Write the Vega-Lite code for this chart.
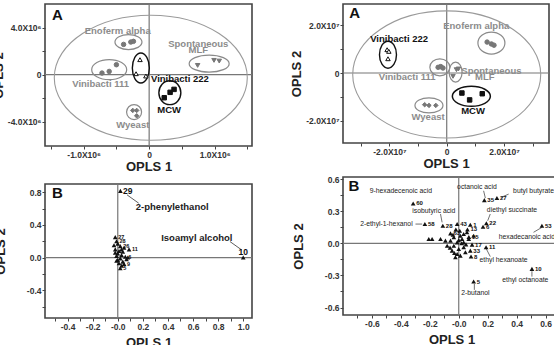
{
  "$schema": "https://vega.github.io/schema/vega-lite/v6.json",
  "padding": {"left": -9, "top": 2, "right": 0, "bottom": 0},
  "background": "white",
  "config": {
    "font": "Liberation Sans",
    "view": {"stroke": "#444", "strokeWidth": 1.6},
    "axis": {"grid": false, "domain": false, "tickCount": 100, "tickColor": "#444", "tickSize": 3, "tickWidth": 1, "labelFont": "Liberation Sans", "labelFontWeight": "bold", "labelFontSize": 8.5, "labelColor": "#333", "labelPadding": 1, "labelOverlap": false, "labelFlush": false, "titleFont": "Liberation Sans", "titleFontSize": 13, "titleFontWeight": "bold", "titleColor": "#222", "titlePadding": 2}
  },
  "datasets": {
    "zero": [{"v": 0}],
    "tlp": [
      {"group": "Enoferm alpha", "x": -390000, "y": 2580000},
      {"group": "Enoferm alpha", "x": -280000, "y": 2780000},
      {"group": "Enoferm alpha", "x": -240000, "y": 2840000},
      {"group": "Vinibacti 111", "x": -720000, "y": 140000},
      {"group": "Vinibacti 111", "x": -610000, "y": 280000},
      {"group": "Vinibacti 111", "x": -500000, "y": 850000},
      {"group": "Vinibacti 222", "x": -140000, "y": 1280000},
      {"group": "Vinibacti 222", "x": -200000, "y": 85000},
      {"group": "Vinibacti 222", "x": -50000, "y": -110000},
      {"group": "Spontaneous MLF", "x": 740000, "y": 790000},
      {"group": "Spontaneous MLF", "x": 990000, "y": 1220000},
      {"group": "Spontaneous MLF", "x": 1070000, "y": 1160000},
      {"group": "MCW", "x": 230000, "y": -1960000},
      {"group": "MCW", "x": 320000, "y": -1500000},
      {"group": "MCW", "x": 380000, "y": -1250000},
      {"group": "Wyeast", "x": -250000, "y": -3040000},
      {"group": "Wyeast", "x": -190000, "y": -3040000},
      {"group": "Wyeast", "x": -190000, "y": -3500000}
    ],
    "tle": [
      {"group": "T2", "x": 25000, "y": -260000},
      {"group": "Enoferm alpha", "x": -316000, "y": 2780000},
      {"group": "Vinibacti 111", "x": -610000, "y": 430000},
      {"group": "Vinibacti 222", "x": -127000, "y": 570000},
      {"group": "Spontaneous MLF", "x": 916000, "y": 940000},
      {"group": "MCW", "x": 316000, "y": -1530000},
      {"group": "Wyeast", "x": -230000, "y": -3180000}
    ],
    "tll": [
      {"text": "Enoferm alpha", "x": -480000, "y": 3720000, "style": "gray"},
      {"text": "Spontaneous", "x": 750000, "y": 2640000, "style": "gray"},
      {"text": "MLF", "x": 750000, "y": 2070000, "style": "gray"},
      {"text": "Vinibacti 111", "x": -740000, "y": -770000, "style": "gray"},
      {"text": "Wyeast", "x": -250000, "y": -4310000, "style": "gray"},
      {"text": "Vinibacti 222", "x": 470000, "y": -400000, "style": "bold"},
      {"text": "MCW", "x": 305000, "y": -3040000, "style": "bold"},
      {"text": "A", "x": -1400000, "y": 5050000, "style": "letter"}
    ],
    "trp": [
      {"group": "Vinibacti 222", "x": -20800000, "y": 9800000},
      {"group": "Vinibacti 222", "x": -20200000, "y": 9100000},
      {"group": "Vinibacti 222", "x": -20500000, "y": 6000000},
      {"group": "Enoferm alpha", "x": 14100000, "y": 13000000},
      {"group": "Enoferm alpha", "x": 15600000, "y": 12200000},
      {"group": "Enoferm alpha", "x": 16500000, "y": 11700000},
      {"group": "Vinibacti 111", "x": -3000000, "y": 2400000},
      {"group": "Vinibacti 111", "x": -2100000, "y": 2700000},
      {"group": "Vinibacti 111", "x": -1300000, "y": 2100000},
      {"group": "Spontaneous MLF", "x": 3400000, "y": 1400000},
      {"group": "Spontaneous MLF", "x": 2200000, "y": -1400000},
      {"group": "Spontaneous MLF", "x": 4100000, "y": 1700000},
      {"group": "MCW", "x": 5300000, "y": -8400000},
      {"group": "MCW", "x": 8000000, "y": -11300000},
      {"group": "MCW", "x": 12400000, "y": -8700000},
      {"group": "Wyeast", "x": -7700000, "y": -13300000},
      {"group": "Wyeast", "x": -6200000, "y": -13600000},
      {"group": "Wyeast", "x": -3800000, "y": -13600000}
    ],
    "tre": [
      {"group": "T2", "x": 0, "y": -600000},
      {"group": "Vinibacti 222", "x": -20500000, "y": 7700000},
      {"group": "Enoferm alpha", "x": 15600000, "y": 12600000},
      {"group": "Vinibacti 111", "x": -2400000, "y": 2400000},
      {"group": "Spontaneous MLF", "x": 3100000, "y": 400000},
      {"group": "MCW", "x": 8600000, "y": -9800000},
      {"group": "Wyeast", "x": -6200000, "y": -13600000}
    ],
    "trl": [
      {"text": "Vinibacti 222", "x": -16600000, "y": 14400000, "style": "bold"},
      {"text": "Enoferm alpha", "x": 10300000, "y": 19600000, "style": "gray"},
      {"text": "Vinibacti 111", "x": -13800000, "y": -1800000, "style": "gray"},
      {"text": "Spontaneous", "x": 15600000, "y": 1000000, "style": "gray"},
      {"text": "MLF", "x": 13300000, "y": -1800000, "style": "gray"},
      {"text": "MCW", "x": 9200000, "y": -16100000, "style": "bold"},
      {"text": "Wyeast", "x": -6500000, "y": -18600000, "style": "gray"},
      {"text": "A", "x": -32100000, "y": 25200000, "style": "letter"}
    ],
    "blp": [
      {"x": 0.021, "y": 0.816},
      {"x": 1.0, "y": 0.0},
      {"x": -0.02, "y": 0.25, "num": "27"},
      {"x": -0.01, "y": 0.2, "num": "28"},
      {"x": 0.0, "y": 0.17},
      {"x": -0.03, "y": 0.15},
      {"x": 0.02, "y": 0.14, "num": "26"},
      {"x": 0.05, "y": 0.12},
      {"x": 0.09, "y": 0.1, "num": "11"},
      {"x": -0.02, "y": 0.1},
      {"x": 0.01, "y": 0.08},
      {"x": 0.04, "y": 0.07},
      {"x": 0.0, "y": 0.05},
      {"x": 0.03, "y": 0.03},
      {"x": -0.01, "y": 0.02},
      {"x": 0.06, "y": 0.01, "num": "6"},
      {"x": 0.02, "y": -0.01},
      {"x": 0.07, "y": -0.02},
      {"x": 0.0, "y": -0.03},
      {"x": 0.04, "y": -0.05},
      {"x": 0.01, "y": -0.07},
      {"x": 0.05, "y": -0.08, "num": "9"},
      {"x": 0.03, "y": -0.1},
      {"x": 0.02, "y": -0.13, "num": "5"},
      {"x": -0.01, "y": -0.04},
      {"x": 0.08, "y": 0.0},
      {"x": -0.02, "y": 0.06},
      {"x": 0.03, "y": 0.1}
    ],
    "bll": [
      {"text": "29", "x": 0.08, "y": 0.82, "style": "num"},
      {"text": "10", "x": 1.0, "y": 0.07, "style": "num"},
      {"text": "2-phenylethanol", "x": 0.434, "y": 0.62, "style": "name"},
      {"text": "Isoamyl alcohol", "x": 0.63, "y": 0.245, "style": "name"},
      {"text": "B", "x": -0.48, "y": 0.79, "style": "letter"}
    ],
    "bln": [
      {"x": 0.074, "y": 0.767, "x2": 0.167, "y2": 0.665},
      {"x": 0.894, "y": 0.196, "x2": 0.987, "y2": 0.094}
    ],
    "brp": [
      {"x": -0.315, "y": 0.373, "num": "60"},
      {"x": -0.234, "y": 0.18, "num": "58"},
      {"x": -0.11, "y": 0.165, "num": "28"},
      {"x": -0.011, "y": 0.18, "num": "43"},
      {"x": 0.08, "y": 0.174, "num": "1"},
      {"x": 0.177, "y": 0.404, "num": "35"},
      {"x": 0.264, "y": 0.423, "num": "27"},
      {"x": 0.191, "y": 0.187, "num": "22"},
      {"x": 0.168, "y": 0.155, "num": "6"},
      {"x": 0.575, "y": 0.165, "num": "53"},
      {"x": 0.189, "y": -0.037, "num": "11"},
      {"x": 0.506, "y": -0.239, "num": "10"},
      {"x": 0.103, "y": -0.357, "num": "5"},
      {"x": 0.085, "y": -0.124, "num": "8"},
      {"x": 0.08, "y": -0.068, "num": "33"},
      {"x": 0.092, "y": -0.012, "num": "17"},
      {"x": -0.057, "y": 0.093, "num": "63"},
      {"x": 0.06, "y": 0.13, "num": "13"},
      {"x": 0.07, "y": 0.06, "num": "15"},
      {"x": -0.126, "y": 0.04},
      {"x": -0.207, "y": 0.04},
      {"x": -0.184, "y": 0.04},
      {"x": -0.092, "y": 0.025},
      {"x": -0.034, "y": 0.056},
      {"x": 0.011, "y": 0.071},
      {"x": 0.034, "y": 0.087},
      {"x": 0.057, "y": 0.103},
      {"x": 0.023, "y": 0.04},
      {"x": -0.011, "y": 0.009},
      {"x": -0.034, "y": -0.022},
      {"x": 0.0, "y": -0.053},
      {"x": -0.046, "y": -0.068},
      {"x": -0.011, "y": -0.1},
      {"x": 0.034, "y": -0.037},
      {"x": 0.046, "y": -0.084},
      {"x": 0.011, "y": -0.115},
      {"x": -0.023, "y": -0.13},
      {"x": 0.069, "y": 0.04},
      {"x": -0.057, "y": 0.025},
      {"x": -0.08, "y": -0.022},
      {"x": 0.034, "y": 0.009},
      {"x": 0.007, "y": 0.118},
      {"x": 0.103, "y": 0.071},
      {"x": -0.02, "y": 0.13},
      {"x": 0.02, "y": 0.0},
      {"x": -0.04, "y": 0.08},
      {"x": 0.0, "y": 0.03},
      {"x": -0.06, "y": -0.04},
      {"x": 0.05, "y": -0.01},
      {"x": -0.03, "y": -0.09}
    ],
    "brl": [
      {"text": "9-hexadecenoic acid", "x": -0.4, "y": 0.485, "style": "name"},
      {"text": "isobutyric acid", "x": -0.172, "y": 0.305, "style": "name"},
      {"text": "2-ethyl-1-hexanol", "x": -0.5, "y": 0.18, "style": "name"},
      {"text": "octanoic acid", "x": 0.126, "y": 0.528, "style": "name"},
      {"text": "butyl butyrate", "x": 0.517, "y": 0.485, "style": "name"},
      {"text": "diethyl succinate", "x": 0.368, "y": 0.311, "style": "name"},
      {"text": "hexadecanoic acid", "x": 0.471, "y": 0.062, "style": "name"},
      {"text": "ethyl hexanoate", "x": 0.31, "y": -0.155, "style": "name"},
      {"text": "ethyl octanoate", "x": 0.46, "y": -0.342, "style": "name"},
      {"text": "2-butanol", "x": 0.115, "y": -0.466, "style": "name"},
      {"text": "B", "x": -0.724, "y": 0.538, "style": "letter"}
    ],
    "brn": [
      {"x": 0.172, "y": 0.491, "x2": 0.184, "y2": 0.423},
      {"x": 0.345, "y": 0.46, "x2": 0.292, "y2": 0.429},
      {"x": 0.218, "y": 0.274, "x2": 0.2, "y2": 0.211},
      {"x": 0.517, "y": 0.103, "x2": 0.575, "y2": 0.149},
      {"x": 0.218, "y": -0.124, "x2": 0.191, "y2": -0.053},
      {"x": 0.506, "y": -0.311, "x2": 0.506, "y2": -0.261},
      {"x": 0.108, "y": -0.435, "x2": 0.108, "y2": -0.379},
      {"x": -0.299, "y": 0.18, "x2": -0.253, "y2": 0.18},
      {"x": -0.126, "y": 0.274, "x2": -0.115, "y2": 0.196}
    ]
  },
  "spacing": 35,
  "hconcat": [
    {
      "spacing": 7,
      "vconcat": [
        {
          "width": 207, "height": 142,
          "resolve": {"scale": {"shape": "independent", "stroke": "independent", "fill": "independent"}},
          "layer": [
            {"data": {"name": "zero"}, "mark": {"type": "rule", "color": "#777", "strokeWidth": 1.2},
             "encoding": {"x": {"field": "v", "type": "quantitative", "title": "OPLS 1", "scale": {"domain": [-1590000, 1570000], "nice": false, "zero": false},
               "axis": {"tickCount": 100, "values": [-1500000, -1000000, -500000, 0, 500000, 1000000, 1500000], "labelExpr": "datum.value == 0 ? '0' : (abs(datum.value) % 1000000 == 0 ? (datum.value < 0 ? '-' : '') + format(abs(datum.value) / 1000000, '.1f') + 'X10⁶' : '')"}}}},
            {"data": {"name": "zero"}, "mark": {"type": "rule", "color": "#777", "strokeWidth": 1.2},
             "encoding": {"y": {"field": "v", "type": "quantitative", "title": "OPLS 2", "scale": {"domain": [-6070000, 6020000], "nice": false, "zero": false},
               "axis": {"tickCount": 100, "values": [-4000000, -2000000, 0, 2000000, 4000000], "labelExpr": "datum.value == 0 ? '0' : (abs(datum.value) % 4000000 == 0 ? (datum.value < 0 ? '-' : '') + format(abs(datum.value) / 1000000, '.1f') + 'X10⁶' : '')"}}}},
            {"data": {"name": "tle"}, "transform": [{"filter": "datum.group == 'T2'"}], "mark": {"type": "point", "filled": false, "opacity": 1, "strokeWidth": 1.1, "color": "#9a9a9a", "shape": "M-1,0A1,0.648 0 1 1 1,0A1,0.648 0 1 1 -1,0Z", "size": 37249},
             "encoding": {"x": {"field": "x", "type": "quantitative"}, "y": {"field": "y", "type": "quantitative"}}},
            {"data": {"name": "tle"}, "transform": [{"filter": "datum.group == 'Enoferm alpha'"}], "mark": {"type": "point", "filled": false, "opacity": 1, "strokeWidth": 1.2, "color": "#8a8a8a", "shape": "M-1,0A1,0.556 0 1 1 1,0A1,0.556 0 1 1 -1,0Z", "size": 729},
             "encoding": {"x": {"field": "x", "type": "quantitative"}, "y": {"field": "y", "type": "quantitative"}}},
            {"data": {"name": "tle"}, "transform": [{"filter": "datum.group == 'Vinibacti 111'"}], "mark": {"type": "point", "filled": false, "opacity": 1, "strokeWidth": 1.2, "color": "#8a8a8a", "shape": "M-1,0A1,0.571 0 1 1 1,0A1,0.571 0 1 1 -1,0Z", "size": 1225},
             "encoding": {"x": {"field": "x", "type": "quantitative"}, "y": {"field": "y", "type": "quantitative"}}},
            {"data": {"name": "tle"}, "transform": [{"filter": "datum.group == 'Vinibacti 222'"}], "mark": {"type": "point", "filled": false, "opacity": 1, "strokeWidth": 1.4, "color": "#111", "shape": "M-1,0A1,1.765 0 1 1 1,0A1,1.765 0 1 1 -1,0Z", "size": 289},
             "encoding": {"x": {"field": "x", "type": "quantitative"}, "y": {"field": "y", "type": "quantitative"}}},
            {"data": {"name": "tle"}, "transform": [{"filter": "datum.group == 'Spontaneous MLF'"}], "mark": {"type": "point", "filled": false, "opacity": 1, "strokeWidth": 1.2, "color": "#8a8a8a", "shape": "M-1,0A1,0.425 0 1 1 1,0A1,0.425 0 1 1 -1,0Z", "size": 1600},
             "encoding": {"x": {"field": "x", "type": "quantitative"}, "y": {"field": "y", "type": "quantitative"}}},
            {"data": {"name": "tle"}, "transform": [{"filter": "datum.group == 'MCW'"}], "mark": {"type": "point", "filled": false, "opacity": 1, "strokeWidth": 1.4, "color": "#111", "shape": "M-1,0A1,1.09 0 1 1 1,0A1,1.09 0 1 1 -1,0Z", "size": 484},
             "encoding": {"x": {"field": "x", "type": "quantitative"}, "y": {"field": "y", "type": "quantitative"}}},
            {"data": {"name": "tle"}, "transform": [{"filter": "datum.group == 'Wyeast'"}], "mark": {"type": "point", "filled": false, "opacity": 1, "strokeWidth": 1.2, "color": "#8a8a8a", "shape": "M-1,0A1,1 0 1 1 1,0A1,1 0 1 1 -1,0Z", "size": 225},
             "encoding": {"x": {"field": "x", "type": "quantitative"}, "y": {"field": "y", "type": "quantitative"}}},
            {"data": {"name": "tlp"}, "mark": {"type": "point", "opacity": 1, "size": 20, "strokeWidth": 1},
             "encoding": {
               "x": {"field": "x", "type": "quantitative"},
               "y": {"field": "y", "type": "quantitative"},
               "shape": {"field": "group", "type": "nominal", "legend": null, "scale": {"domain": ["Enoferm alpha", "Vinibacti 111", "Vinibacti 222", "Spontaneous MLF", "MCW", "Wyeast"], "range": ["circle", "circle", "triangle-up", "triangle-down", "square", "diamond"]}},
               "fill": {"field": "group", "type": "nominal", "legend": null, "scale": {"domain": ["Enoferm alpha", "Vinibacti 111", "Vinibacti 222", "Spontaneous MLF", "MCW", "Wyeast"], "range": ["#777777", "#777777", "#ffffff", "#777777", "#111111", "#777777"]}},
               "stroke": {"field": "group", "type": "nominal", "legend": null, "scale": {"domain": ["Enoferm alpha", "Vinibacti 111", "Vinibacti 222", "Spontaneous MLF", "MCW", "Wyeast"], "range": ["#777777", "#777777", "#111111", "#777777", "#111111", "#777777"]}}
             }},
            {"data": {"name": "tll"}, "transform": [{"filter": "datum.style == 'gray'"}], "mark": {"type": "text", "fontSize": 9.5, "fontWeight": "bold", "color": "#8c8c8c"},
             "encoding": {"x": {"field": "x", "type": "quantitative"}, "y": {"field": "y", "type": "quantitative"}, "text": {"field": "text"}}},
            {"data": {"name": "tll"}, "transform": [{"filter": "datum.style == 'bold'"}], "mark": {"type": "text", "fontSize": 9.5, "fontWeight": "bold", "color": "#111"},
             "encoding": {"x": {"field": "x", "type": "quantitative"}, "y": {"field": "y", "type": "quantitative"}, "text": {"field": "text"}}},
            {"data": {"name": "tll"}, "transform": [{"filter": "datum.style == 'letter'"}], "mark": {"type": "text", "fontSize": 15, "fontWeight": "bold", "color": "#111"},
             "encoding": {"x": {"field": "x", "type": "quantitative"}, "y": {"field": "y", "type": "quantitative"}, "text": {"field": "text"}}}
          ]
        },
        {
          "width": 207, "height": 134,
          "layer": [
            {"data": {"name": "zero"}, "mark": {"type": "rule", "color": "#777", "strokeWidth": 1.2},
             "encoding": {"x": {"field": "v", "type": "quantitative", "title": "OPLS 1", "scale": {"domain": [-0.58, 1.07], "nice": false, "zero": false},
               "axis": {"tickCount": 100, "titlePadding": 6, "values": [-0.5, -0.4, -0.3, -0.2, -0.1, 0, 0.1, 0.2, 0.3, 0.4, 0.5, 0.6, 0.7, 0.8, 0.9, 1.0], "labelExpr": "round(datum.value * 10) % 2 == 0 ? (round(datum.value * 10) == 0 ? '-0.0' : (datum.value < 0 ? '-' : '') + format(abs(datum.value), '.1f')) : ''"}}}},
            {"data": {"name": "zero"}, "mark": {"type": "rule", "color": "#777", "strokeWidth": 1.2},
             "encoding": {"y": {"field": "v", "type": "quantitative", "title": "OPLS 2", "scale": {"domain": [-0.74, 0.9], "nice": false, "zero": false},
               "axis": {"tickCount": 100, "titlePadding": 19, "values": [-0.6, -0.4, -0.2, 0, 0.2, 0.4, 0.6, 0.8], "labelExpr": "round(datum.value * 10) % 4 == 0 ? (datum.value < 0 ? '-' : '') + format(abs(datum.value), '.1f') : ''"}}}},
            {"data": {"name": "bln"}, "mark": {"type": "rule", "color": "#333", "strokeWidth": 0.8},
             "encoding": {"x": {"field": "x", "type": "quantitative"}, "y": {"field": "y", "type": "quantitative"}, "x2": {"field": "x2"}, "y2": {"field": "y2"}}},
            {"data": {"name": "blp"}, "mark": {"type": "point", "shape": "triangle-up", "filled": true, "opacity": 1, "size": 22, "color": "#111"},
             "encoding": {"x": {"field": "x", "type": "quantitative"}, "y": {"field": "y", "type": "quantitative"}}},
            {"data": {"name": "blp"}, "transform": [{"filter": "datum.num"}], "mark": {"type": "text", "align": "left", "dx": 3, "fontSize": 5.5, "fontWeight": "bold", "color": "#111"},
             "encoding": {"x": {"field": "x", "type": "quantitative"}, "y": {"field": "y", "type": "quantitative"}, "text": {"field": "num"}}},
            {"data": {"name": "bll"}, "transform": [{"filter": "datum.style == 'num'"}], "mark": {"type": "text", "align": "center", "fontSize": 8.5, "fontWeight": "bold", "color": "#111"},
             "encoding": {"x": {"field": "x", "type": "quantitative"}, "y": {"field": "y", "type": "quantitative"}, "text": {"field": "text"}}},
            {"data": {"name": "bll"}, "transform": [{"filter": "datum.style == 'name'"}], "mark": {"type": "text", "fontSize": 9.5, "fontWeight": "bold", "color": "#222"},
             "encoding": {"x": {"field": "x", "type": "quantitative"}, "y": {"field": "y", "type": "quantitative"}, "text": {"field": "text"}}},
            {"data": {"name": "bll"}, "transform": [{"filter": "datum.style == 'letter'"}], "mark": {"type": "text", "fontSize": 15, "fontWeight": "bold", "color": "#111"},
             "encoding": {"x": {"field": "x", "type": "quantitative"}, "y": {"field": "y", "type": "quantitative"}, "text": {"field": "text"}}}
          ]
        }
      ]
    },
    {
      "spacing": 2,
      "vconcat": [
        {
          "width": 206, "height": 139,
          "resolve": {"scale": {"shape": "independent", "stroke": "independent", "fill": "independent"}},
          "layer": [
            {"data": {"name": "zero"}, "mark": {"type": "rule", "color": "#777", "strokeWidth": 1.2},
             "encoding": {"x": {"field": "v", "type": "quantitative", "title": "OPLS 1", "scale": {"domain": [-36200000, 35700000], "nice": false, "zero": false},
               "axis": {"tickCount": 100, "values": [-30000000, -20000000, -10000000, 0, 10000000, 20000000, 30000000], "labelExpr": "datum.value == 0 ? '0' : (abs(datum.value) % 20000000 == 0 ? (datum.value < 0 ? '-' : '') + format(abs(datum.value) / 10000000, '.1f') + 'X10⁷' : '')"}}}},
            {"data": {"name": "zero"}, "mark": {"type": "rule", "color": "#777", "strokeWidth": 1.2},
             "encoding": {"y": {"field": "v", "type": "quantitative", "title": "OPLS 2", "scale": {"domain": [-29400000, 29000000], "nice": false, "zero": false},
               "axis": {"tickCount": 100, "values": [-20000000, -10000000, 0, 10000000, 20000000], "labelExpr": "datum.value == 0 ? '0' : (abs(datum.value) % 20000000 == 0 ? (datum.value < 0 ? '-' : '') + format(abs(datum.value) / 10000000, '.1f') + 'X10⁷' : '')"}}}},
            {"data": {"name": "tre"}, "transform": [{"filter": "datum.group == 'T2'"}], "mark": {"type": "point", "filled": false, "opacity": 1, "strokeWidth": 1.1, "color": "#9a9a9a", "shape": "M-1,0A1,0.676 0 1 1 1,0A1,0.676 0 1 1 -1,0Z", "size": 35344},
             "encoding": {"x": {"field": "x", "type": "quantitative"}, "y": {"field": "y", "type": "quantitative"}}},
            {"data": {"name": "tre"}, "transform": [{"filter": "datum.group == 'Enoferm alpha'"}], "mark": {"type": "point", "filled": false, "opacity": 1, "strokeWidth": 1.2, "color": "#8a8a8a", "shape": "M-1,0A1,0.815 0 1 1 1,0A1,0.815 0 1 1 -1,0Z", "size": 729},
             "encoding": {"x": {"field": "x", "type": "quantitative"}, "y": {"field": "y", "type": "quantitative"}}},
            {"data": {"name": "tre"}, "transform": [{"filter": "datum.group == 'Vinibacti 111'"}], "mark": {"type": "point", "filled": false, "opacity": 1, "strokeWidth": 1.2, "color": "#8a8a8a", "shape": "M-1,0A1,0.85 0 1 1 1,0A1,0.85 0 1 1 -1,0Z", "size": 400},
             "encoding": {"x": {"field": "x", "type": "quantitative"}, "y": {"field": "y", "type": "quantitative"}}},
            {"data": {"name": "tre"}, "transform": [{"filter": "datum.group == 'Vinibacti 222'"}], "mark": {"type": "point", "filled": false, "opacity": 1, "strokeWidth": 1.4, "color": "#111", "shape": "M-1,0A1,1.588 0 1 1 1,0A1,1.588 0 1 1 -1,0Z", "size": 289},
             "encoding": {"x": {"field": "x", "type": "quantitative"}, "y": {"field": "y", "type": "quantitative"}}},
            {"data": {"name": "tre"}, "transform": [{"filter": "datum.group == 'Spontaneous MLF'"}], "mark": {"type": "point", "filled": false, "opacity": 1, "strokeWidth": 1.2, "color": "#8a8a8a", "shape": "M-1,0A1,1.54 0 1 1 1,0A1,1.54 0 1 1 -1,0Z", "size": 169},
             "encoding": {"x": {"field": "x", "type": "quantitative"}, "y": {"field": "y", "type": "quantitative"}}},
            {"data": {"name": "tre"}, "transform": [{"filter": "datum.group == 'MCW'"}], "mark": {"type": "point", "filled": false, "opacity": 1, "strokeWidth": 1.5, "color": "#111", "shape": "M-1,0A1,0.526 0 1 1 1,0A1,0.526 0 1 1 -1,0Z", "size": 1444},
             "encoding": {"x": {"field": "x", "type": "quantitative"}, "y": {"field": "y", "type": "quantitative"}}},
            {"data": {"name": "tre"}, "transform": [{"filter": "datum.group == 'Wyeast'"}], "mark": {"type": "point", "filled": false, "opacity": 1, "strokeWidth": 1.2, "color": "#8a8a8a", "shape": "M-1,0A1,0.536 0 1 1 1,0A1,0.536 0 1 1 -1,0Z", "size": 784},
             "encoding": {"x": {"field": "x", "type": "quantitative"}, "y": {"field": "y", "type": "quantitative"}}},
            {"data": {"name": "trp"}, "mark": {"type": "point", "opacity": 1, "size": 20, "strokeWidth": 1},
             "encoding": {
               "x": {"field": "x", "type": "quantitative"},
               "y": {"field": "y", "type": "quantitative"},
               "shape": {"field": "group", "type": "nominal", "legend": null, "scale": {"domain": ["Enoferm alpha", "Vinibacti 111", "Vinibacti 222", "Spontaneous MLF", "MCW", "Wyeast"], "range": ["circle", "circle", "triangle-up", "triangle-down", "square", "diamond"]}},
               "fill": {"field": "group", "type": "nominal", "legend": null, "scale": {"domain": ["Enoferm alpha", "Vinibacti 111", "Vinibacti 222", "Spontaneous MLF", "MCW", "Wyeast"], "range": ["#777777", "#777777", "#ffffff", "#777777", "#111111", "#777777"]}},
               "stroke": {"field": "group", "type": "nominal", "legend": null, "scale": {"domain": ["Enoferm alpha", "Vinibacti 111", "Vinibacti 222", "Spontaneous MLF", "MCW", "Wyeast"], "range": ["#777777", "#777777", "#111111", "#777777", "#111111", "#777777"]}}
             }},
            {"data": {"name": "trl"}, "transform": [{"filter": "datum.style == 'gray'"}], "mark": {"type": "text", "fontSize": 9.5, "fontWeight": "bold", "color": "#8c8c8c"},
             "encoding": {"x": {"field": "x", "type": "quantitative"}, "y": {"field": "y", "type": "quantitative"}, "text": {"field": "text"}}},
            {"data": {"name": "trl"}, "transform": [{"filter": "datum.style == 'bold'"}], "mark": {"type": "text", "fontSize": 9.5, "fontWeight": "bold", "color": "#111"},
             "encoding": {"x": {"field": "x", "type": "quantitative"}, "y": {"field": "y", "type": "quantitative"}, "text": {"field": "text"}}},
            {"data": {"name": "trl"}, "transform": [{"filter": "datum.style == 'letter'"}], "mark": {"type": "text", "fontSize": 15, "fontWeight": "bold", "color": "#111"},
             "encoding": {"x": {"field": "x", "type": "quantitative"}, "y": {"field": "y", "type": "quantitative"}, "text": {"field": "text"}}}
          ]
        },
        {
          "width": 217, "height": 138,
          "layer": [
            {"data": {"name": "zero"}, "mark": {"type": "rule", "color": "#777", "strokeWidth": 1.2},
             "encoding": {"x": {"field": "v", "type": "quantitative", "title": "OPLS 1", "scale": {"domain": [-0.8, 0.7], "nice": false, "zero": false},
               "axis": {"tickCount": 100, "titlePadding": 6, "values": [-0.7, -0.6, -0.5, -0.4, -0.3, -0.2, -0.1, 0, 0.1, 0.2, 0.3, 0.4, 0.5, 0.6, 0.7], "labelExpr": "round(datum.value * 10) % 2 == 0 ? (round(datum.value * 10) == 0 ? '-0.0' : (datum.value < 0 ? '-' : '') + format(abs(datum.value), '.1f')) : ''"}}}},
            {"data": {"name": "zero"}, "mark": {"type": "rule", "color": "#777", "strokeWidth": 1.2},
             "encoding": {"y": {"field": "v", "type": "quantitative", "title": "OPLS 2", "scale": {"domain": [-0.67, 0.62], "nice": false, "zero": false},
               "axis": {"tickCount": 100, "titlePadding": 19, "values": [-0.6, -0.45, -0.3, -0.15, 0, 0.15, 0.3, 0.45, 0.6], "labelExpr": "round(datum.value * 100) % 30 == 0 ? (datum.value < 0 ? '-' : '') + format(abs(datum.value), '.1f') : ''"}}}},
            {"data": {"name": "brn"}, "mark": {"type": "rule", "color": "#333", "strokeWidth": 0.7},
             "encoding": {"x": {"field": "x", "type": "quantitative"}, "y": {"field": "y", "type": "quantitative"}, "x2": {"field": "x2"}, "y2": {"field": "y2"}}},
            {"data": {"name": "brp"}, "mark": {"type": "point", "shape": "triangle-up", "filled": true, "opacity": 1, "size": 22, "color": "#111"},
             "encoding": {"x": {"field": "x", "type": "quantitative"}, "y": {"field": "y", "type": "quantitative"}}},
            {"data": {"name": "brp"}, "transform": [{"filter": "datum.num"}], "mark": {"type": "text", "align": "left", "dx": 3, "fontSize": 6, "fontWeight": "bold", "color": "#111"},
             "encoding": {"x": {"field": "x", "type": "quantitative"}, "y": {"field": "y", "type": "quantitative"}, "text": {"field": "num"}}},
            {"data": {"name": "brl"}, "transform": [{"filter": "datum.style == 'name'"}], "mark": {"type": "text", "fontSize": 6.8, "color": "#222"},
             "encoding": {"x": {"field": "x", "type": "quantitative"}, "y": {"field": "y", "type": "quantitative"}, "text": {"field": "text"}}},
            {"data": {"name": "brl"}, "transform": [{"filter": "datum.style == 'letter'"}], "mark": {"type": "text", "fontSize": 15, "fontWeight": "bold", "color": "#111"},
             "encoding": {"x": {"field": "x", "type": "quantitative"}, "y": {"field": "y", "type": "quantitative"}, "text": {"field": "text"}}}
          ]
        }
      ]
    }
  ]
}
